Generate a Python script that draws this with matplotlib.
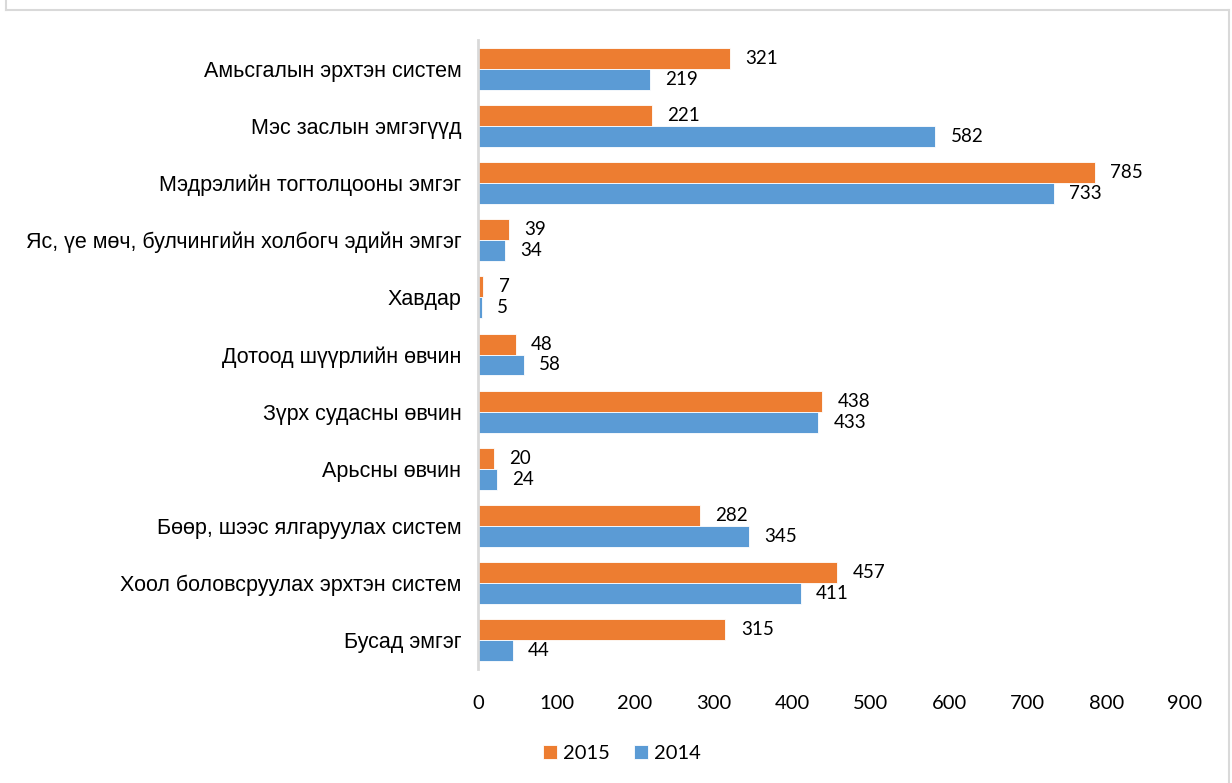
import matplotlib
matplotlib.use('Agg')
import matplotlib.pyplot as plt
import numpy as np
from matplotlib.lines import Line2D

categories = ['Амьсгалын эрхтэн систем', 'Мэс заслын эмгэгүүд', 'Мэдрэлийн тогтолцооны эмгэг',
              'Яс, үе мөч, булчингийн холбогч эдийн эмгэг', 'Хавдар', 'Дотоод шүүрлийн өвчин',
              'Зүрх судасны өвчин', 'Арьсны өвчин', 'Бөөр, шээс ялгаруулах систем',
              'Хоол боловсруулах эрхтэн систем', 'Бусад эмгэг']
values_2015 = [321, 221, 785, 39, 7, 48, 438, 20, 282, 457, 315]
values_2014 = [219, 582, 733, 34, 5, 58, 433, 24, 345, 411, 44]

orange = '#ED7D31'
blue = '#5B9BD5'
num_font = 'Lato'

fig = plt.figure(figsize=(12.32, 7.83), dpi=100)
ax = fig.add_axes([478 / 1232, 1 - 669 / 783, (1185 - 478) / 1232, (669 - 40) / 783])

y = np.arange(len(categories))
h = 0.367
b15 = ax.barh(y - h / 2, values_2015, height=h, color=orange, edgecolor='white', linewidth=0.6, label='2015')
b14 = ax.barh(y + h / 2, values_2014, height=h, color=blue, edgecolor='white', linewidth=0.6, label='2014')

for bars in (b15, b14):
    ax.bar_label(bars, padding=11, fontsize=13.5, family=num_font, color='black')

ax.set_ylim(len(categories) - 0.5, -0.5)
ax.set_xlim(0, 900)
ax.set_xticks(range(0, 901, 100))
ax.set_yticks(y)
ax.set_yticklabels(categories, fontsize=15.5, family='Liberation Sans')
for lbl in ax.get_xticklabels():
    lbl.set_family(num_font)
    lbl.set_fontsize(14.5)

ax.tick_params(axis='y', length=0, pad=12)
ax.tick_params(axis='x', length=0, pad=19)
for s in ['top', 'right', 'bottom']:
    ax.spines[s].set_visible(False)
ax.spines['left'].set_color('#d9d9d9')
ax.spines['left'].set_linewidth(2)

fig.legend(handles=[b15, b14], labels=['2015', '2014'], loc='center', bbox_to_anchor=(0.505, 0.038),
           ncol=2, frameon=False, prop={'family': num_font, 'size': 14.5},
           handlelength=0.7, handleheight=0.7, handletextpad=0.3, columnspacing=1.2)

# light gray frame around the chart area
for xs, ys in [([6, 6], [0, 10]), ([6, 1229], [10, 10]), ([1229, 1229], [10, 783])]:
    fig.add_artist(Line2D([x / 1232 for x in xs], [1 - v / 783 for v in ys], color='#d9d9d9', linewidth=1.5))

fig.savefig('out.png', dpi=100)
